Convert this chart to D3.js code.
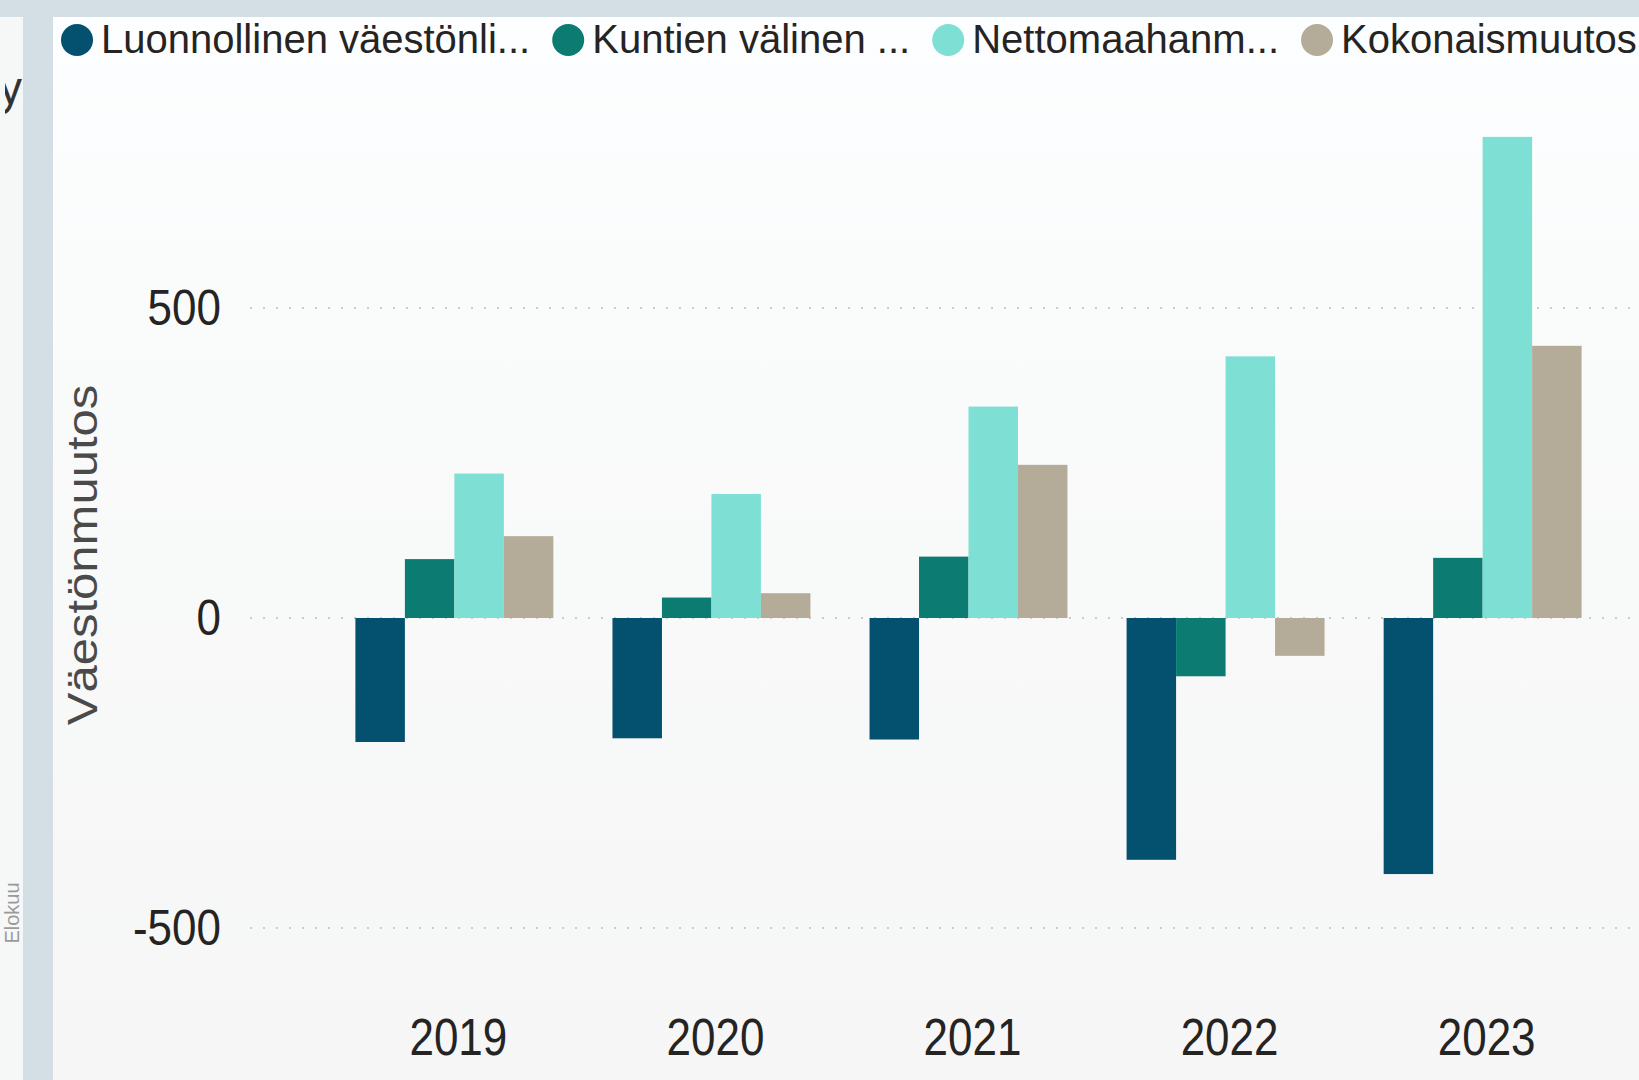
<!DOCTYPE html>
<html>
<head>
<meta charset="utf-8">
<script src="https://cdn.jsdelivr.net/npm/d3@7"></script>
<style>
  html, body { margin: 0; padding: 0; background: #d3dfe5; overflow: hidden; }
  svg { display: block; font-family: "Liberation Sans", Arial, sans-serif; }
</style>
</head>
<body>
<svg id="chart" width="1639" height="1080"></svg>
<script>
// data
const years = ["2019", "2020", "2021", "2022", "2023"];
const seriesNames = ["Luonnollinen väestönlisäys", "Kuntien välinen nettomuutto", "Nettomaahanmuutto", "Kokonaismuutos"];
const legendLabels = ["Luonnollinen väestönli...", "Kuntien välinen ...", "Nettomaahanm...", "Kokonaismuutos"];
const luonnollinen = [-200, -194, -196, -390, -413];
const kuntienValinen = [95, 33, 99, -94, 97];
const nettomaahanmuutto = [233, 200, 341, 422, 776];
const kokonaismuutos = [132, 40, 247, -61, 439];
const yTicks = [-500, 0, 500];
const colors = ["#03506f", "#0c7c72", "#7ee0d4", "#b4ac99"];

const seriesValues = [luonnollinen, kuntienValinen, nettomaahanmuutto, kokonaismuutos];

const W = 1639, H = 1080;
const svg = d3.select("#chart");

const defs = svg.append("defs");
const grad = defs.append("linearGradient")
    .attr("id", "panelFade")
    .attr("x1", 0).attr("y1", 0).attr("x2", 0).attr("y2", 1);
grad.append("stop").attr("offset", "0%").attr("stop-color", "#fdfeff");
grad.append("stop").attr("offset", "25%").attr("stop-color", "#fafbfb");
grad.append("stop").attr("offset", "100%").attr("stop-color", "#f6f6f6");

defs.append("clipPath").attr("id", "leftClip")
  .append("rect").attr("x", 5).attr("y", 17).attr("width", 18).attr("height", 200);

// side strips and panel
svg.append("rect").attr("width", W).attr("height", H).attr("fill", "#d3dfe5");
svg.append("rect").attr("x", 0).attr("y", 17).attr("width", 23).attr("height", H - 17).attr("fill", "#f6f7f7");
svg.append("rect").attr("x", 53).attr("y", 17).attr("width", W - 53).attr("height", H - 17).attr("fill", "url(#panelFade)");

// fragments of the neighbouring visual on the left
svg.append("text")
    .attr("clip-path", "url(#leftClip)")
    .attr("x", 22).attr("y", 104)
    .attr("text-anchor", "end")
    .attr("font-size", 46)
    .attr("fill", "#333")
    .text("y");
svg.append("text")
    .attr("transform", "translate(19,913) rotate(-90)")
    .attr("text-anchor", "middle")
    .attr("font-size", 20)
    .attr("fill", "#9a9a9a")
    .text("Elokuu");

const x0 = d3.scaleBand()
    .domain(years)
    .range([250, 1687])
    .paddingInner(0.23)
    .paddingOuter(0.41);

const x1 = d3.scaleBand()
    .domain(seriesNames)
    .range([0, x0.bandwidth()]);

const y = d3.scaleLinear()
    .domain([-600, 800])
    .range([990, 122]);

// dotted gridlines
svg.append("g")
  .selectAll("line")
  .data(yTicks)
  .join("line")
    .attr("x1", 250).attr("x2", W)
    .attr("y1", d => y(d)).attr("y2", d => y(d))
    .attr("stroke", "#cccccc")
    .attr("stroke-width", 2)
    .attr("stroke-dasharray", "2,11");

// y tick labels
svg.append("g")
  .selectAll("text")
  .data(yTicks)
  .join("text")
    .attr("transform", d => `translate(221,${y(d) + 17}) scale(1,1.12)`)
    .attr("text-anchor", "end")
    .attr("font-size", 44)
    .attr("fill", "#252423")
    .text(d => d);

// y axis title
svg.append("text")
    .attr("transform", "translate(97,555) rotate(-90) scale(1.14,1)")
    .attr("text-anchor", "middle")
    .attr("font-size", 43)
    .attr("fill", "#4a4a4a")
    .text("Väestönmuutos");

// year labels
svg.append("g")
  .selectAll("text")
  .data(years)
  .join("text")
    .attr("transform", d => `translate(${x0(d) + x0.bandwidth() / 2 + 4},1055) scale(1,1.18)`)
    .attr("text-anchor", "middle")
    .attr("font-size", 44)
    .attr("fill", "#252423")
    .text(d => d);

// bars
const groups = svg.append("g")
  .selectAll("g")
  .data(years)
  .join("g")
    .attr("transform", d => `translate(${x0(d)},0)`);

groups.selectAll("rect")
  .data((yr, i) => seriesNames.map((s, j) => ({ s, j, v: seriesValues[j][i] })))
  .join("rect")
    .attr("x", d => x1(d.s))
    .attr("width", x1.bandwidth())
    .attr("y", d => y(Math.max(0, d.v)))
    .attr("height", d => Math.abs(y(d.v) - y(0)))
    .attr("fill", d => colors[d.j]);

// legend
const legend = svg.append("g");
let lx = 77;
legendLabels.forEach((label, i) => {
  legend.append("circle")
      .attr("cx", lx).attr("cy", 40).attr("r", 16)
      .attr("fill", colors[i]);
  const t = legend.append("text")
      .attr("x", lx + 24).attr("y", 53)
      .attr("font-size", 40)
      .attr("fill", "#252423")
      .text(label);
  lx = lx + 24 + t.node().getComputedTextLength() + 38;
});
</script>
</body>
</html>
